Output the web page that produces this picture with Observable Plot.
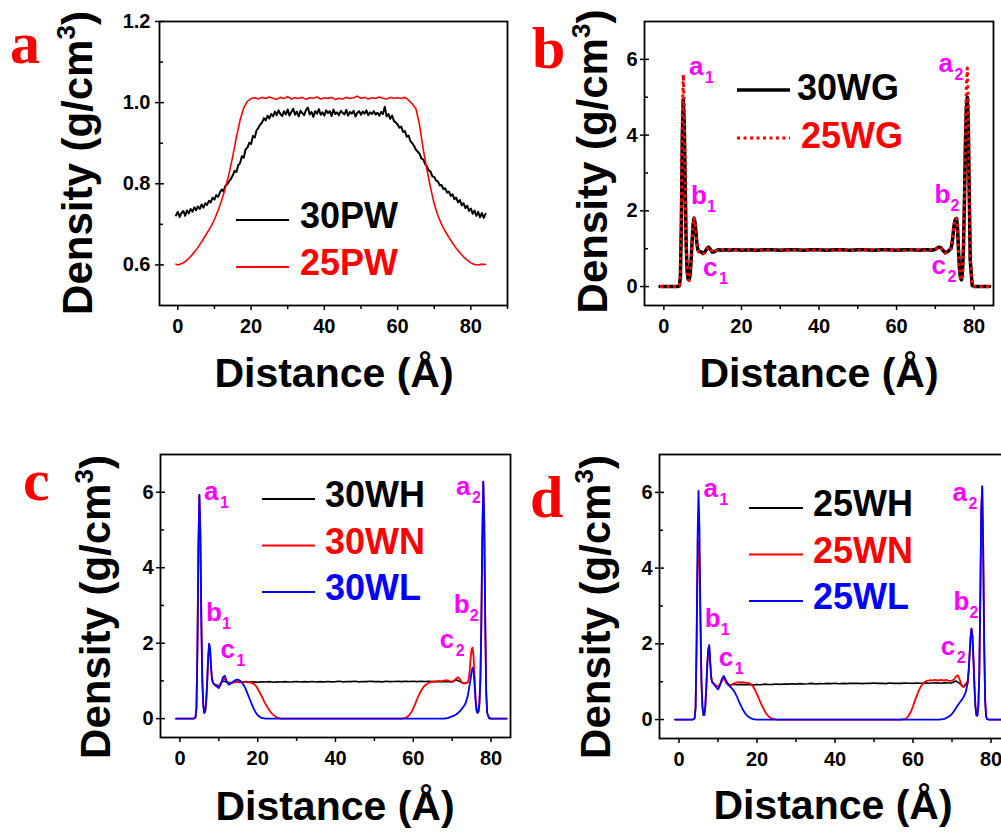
<!DOCTYPE html>
<html><head><meta charset="utf-8">
<script src="https://cdn.jsdelivr.net/npm/d3@7"></script>
<script src="https://cdn.jsdelivr.net/npm/@observablehq/plot@0.6"></script>
<style>
html,body{margin:0;padding:0;background:#fff;overflow:hidden;}
#root{position:relative;width:1001px;height:832px;overflow:hidden;background:#fff;}
</style></head><body><div id="root"></div>
<script>
// ---------------- DATA ----------------
// Panel a
const pwX = [-0.5,0,0.5,1,1.5,2,2.5,3,3.5,4,4.5,5,5.5,6,6.5,7,7.5,8,8.5,9,9.5,10,10.5,11,11.5,12,12.5,13,13.5,14,14.5,15,15.5,16,16.5,17,17.5,18,18.5,19,19.5,20,20.5,21,21.5,22,22.5,23,23.5,24,24.5,25,25.5,26,26.5,27,27.5,28,28.5,29,29.5,30,30.5,31,31.5,32,32.5,33,33.5,34,34.5,35,35.5,36,36.5,37,37.5,38,38.5,39,39.5,40,40.5,41,41.5,42,42.5,43,43.5,44,44.5,45,45.5,46,46.5,47,47.5,48,48.5,49,49.5,50,50.5,51,51.5,52,52.5,53,53.5,54,54.5,55,55.5,56,56.5,57,57.5,58,58.5,59,59.5,60,60.5,61,61.5,62,62.5,63,63.5,64,64.5,65,65.5,66,66.5,67,67.5,68,68.5,69,69.5,70,70.5,71,71.5,72,72.5,73,73.5,74,74.5,75,75.5,76,76.5,77,77.5,78,78.5,79,79.5,80,80.5,81,81.5,82,82.5,83,83.5,84];
const pw30 = [0.722,0.731,0.718,0.728,0.733,0.721,0.734,0.727,0.738,0.731,0.742,0.735,0.744,0.738,0.749,0.741,0.752,0.748,0.758,0.754,0.766,0.761,0.772,0.768,0.779,0.786,0.781,0.795,0.799,0.806,0.812,0.821,0.832,0.829,0.846,0.851,0.868,0.864,0.885,0.889,0.901,0.898,0.918,0.914,0.932,0.938,0.946,0.951,0.962,0.956,0.968,0.961,0.972,0.966,0.978,0.969,0.981,0.972,0.967,0.979,0.971,0.983,0.968,0.977,0.985,0.970,0.978,0.966,0.980,0.974,0.969,0.982,0.988,0.971,0.977,0.965,0.979,0.973,0.984,0.970,0.976,0.968,0.981,0.974,0.979,0.967,0.983,0.972,0.976,0.969,0.980,0.975,0.971,0.982,0.968,0.977,0.973,0.980,0.966,0.975,0.979,0.970,0.978,0.973,0.981,0.969,0.976,0.972,0.979,0.971,0.975,0.968,0.977,0.972,0.990,0.966,0.972,0.960,0.968,0.955,0.951,0.946,0.938,0.941,0.928,0.930,0.916,0.919,0.905,0.900,0.893,0.884,0.879,0.874,0.862,0.860,0.849,0.843,0.833,0.830,0.818,0.817,0.808,0.806,0.796,0.797,0.787,0.789,0.778,0.781,0.770,0.774,0.762,0.766,0.754,0.760,0.747,0.752,0.740,0.746,0.733,0.739,0.726,0.734,0.721,0.731,0.717,0.728,0.716,0.726];
const pw25X = [-0.5,0,1,2,3,4,5,6,7,8,9,10,11,12,13,14,15,16,17,18,19,20,21,22,23,24,25,26,27,28,29,30,31,32,33,34,35,36,37,38,39,40,41,42,43,44,45,46,47,48,49,50,51,52,53,54,55,56,57,58,59,60,61,62,63,64,65,66,67,68,69,70,71,72,73,74,75,76,77,78,79,80,81,82,83,84];
const pw25 = [0.602,0.600,0.603,0.608,0.616,0.626,0.637,0.650,0.664,0.679,0.694,0.712,0.734,0.760,0.790,0.825,0.868,0.915,0.957,0.987,1.003,1.010,1.012,1.009,1.013,1.010,1.014,1.011,1.008,1.013,1.010,1.015,1.009,1.012,1.010,1.013,1.008,1.012,1.011,1.014,1.009,1.012,1.010,1.013,1.008,1.011,1.009,1.013,1.010,1.012,1.016,1.011,1.013,1.009,1.012,1.010,1.014,1.011,1.009,1.013,1.011,1.012,1.010,1.013,1.006,0.997,0.985,0.945,0.885,0.835,0.790,0.750,0.722,0.700,0.683,0.668,0.654,0.641,0.630,0.620,0.612,0.605,0.601,0.600,0.602,0.601];
const namesA = ["30PW","25PW"];

// Panel b
const wgX = [-1,0,1,2,3,3.5,4,4.25,4.5,4.75,5,5.25,5.5,5.75,6,6.25,6.5,6.75,7,7.25,7.5,7.75,8,8.25,8.5,8.75,9,9.5,10,10.5,11,11.5,12,12.5,13,13.5,14,15,16,17,18,19,20,22,24,26,28,30,32,34,36,38,40,42,44,46,48,50,52,54,56,58,60,62,64,66,67,68,69,69.5,70,70.5,71,71.5,72,72.5,73,73.5,74,74.25,74.5,74.75,75,75.25,75.5,75.75,76,76.25,76.5,76.75,77,77.25,77.5,77.75,78,78.25,78.5,78.75,79,79.5,80,81,82,83,84];
const wg30 = [0,0,0,0,0,0,0.02,0.25,1.6,3.9,4.95,4.3,2.6,1.1,0.4,0.2,0.18,0.3,0.65,1.15,1.6,1.8,1.72,1.45,1.15,0.98,0.93,0.92,0.88,0.9,0.99,1.04,0.98,0.91,0.92,0.95,0.97,0.96,0.97,0.96,0.97,0.97,0.96,0.97,0.96,0.97,0.97,0.96,0.97,0.97,0.96,0.97,0.97,0.96,0.97,0.97,0.96,0.97,0.97,0.96,0.97,0.97,0.96,0.97,0.97,0.96,0.97,0.97,0.96,0.97,0.98,1.02,1.04,1.02,0.95,0.9,0.91,0.95,1.0,1.1,1.3,1.55,1.72,1.78,1.8,1.5,0.9,0.45,0.22,0.18,0.4,1.0,2.2,3.7,4.7,5.0,4.3,2.4,0.7,0.03,0,0,0,0,0];
const wg25 = [0,0,0,0,0,0,0.02,0.3,1.8,4.4,5.6,4.7,2.7,1.1,0.4,0.18,0.16,0.3,0.65,1.15,1.6,1.82,1.74,1.45,1.15,0.97,0.92,0.9,0.86,0.89,0.99,1.05,0.98,0.9,0.92,0.95,0.97,0.97,0.96,0.97,0.97,0.96,0.97,0.97,0.97,0.96,0.97,0.97,0.96,0.97,0.97,0.96,0.97,0.97,0.96,0.97,0.97,0.96,0.97,0.97,0.96,0.97,0.97,0.96,0.97,0.97,0.96,0.97,0.97,0.96,0.98,1.03,1.05,1.02,0.94,0.88,0.9,0.95,1.0,1.1,1.32,1.57,1.74,1.8,1.8,1.5,0.9,0.45,0.2,0.17,0.4,1.1,2.4,4.1,5.3,5.77,4.8,2.6,0.75,0.03,0,0,0,0,0];
const namesB = ["30WG","25WG"];

// Panel c
const wh30X = [9,10,11,12,13,14,15,16,17,18,19,20,21,22,23,24,25,26,27,28,29,30,31,32,33,34,35,36,37,38,39,40,41,42,43,44,45,46,47,48,49,50,51,52,53,54,55,56,57,58,59,60,61,62,63,64,65,66,67,68,69,70,71,72,73,74];
const wh30 = [0.9,0.87,1.0,0.97,0.95,0.97,0.97,0.97,0.98,0.97,0.975,0.965,0.975,0.97,0.98,0.965,0.975,0.97,0.98,0.97,0.975,0.985,0.97,0.98,0.975,0.985,0.97,0.98,0.975,0.985,0.975,0.98,0.99,0.975,0.985,0.98,0.99,0.975,0.985,0.98,0.99,0.98,0.985,0.975,0.99,0.98,0.985,0.99,0.98,0.99,0.985,0.99,0.98,0.99,0.985,0.99,0.98,0.985,0.98,0.985,0.98,0.97,1.03,0.98,0.93,0.96];
const wn30X = [-1,0,1,2,3,3.5,4,4.25,4.5,4.75,5,5.25,5.5,5.75,6,6.25,6.5,6.75,7,7.25,7.5,7.75,8,8.25,8.5,9,9.5,10,10.5,11,11.5,12,12.5,13,13.5,14,14.5,15,15.5,16,16.5,17,17.5,18,18.5,19,19.5,20,20.5,21,21.5,22,22.5,23,23.5,24,24.5,25,25.5,26,30,40,50,56,57,57.5,58,58.5,59,59.5,60,60.5,61,61.5,62,62.5,63,63.5,64,64.5,65,65.5,66,66.5,67,67.5,68,68.5,69,69.5,70,70.5,71,71.5,72,72.5,73,73.5,74,74.25,74.5,74.75,75,75.25,75.5,75.75,76,76.25,76.5,76.75,77,77.25,77.5,77.75,78,78.25,78.5,78.75,79,79.5,80,81,82,83,84];
const wn30 = [0,0,0,0,0,0,0.03,0.3,1.9,4.6,5.93,4.9,2.6,1.0,0.35,0.15,0.2,0.45,0.95,1.6,1.98,1.85,1.35,1.05,0.95,0.88,0.86,0.87,0.93,1.02,1.06,0.98,0.93,0.94,0.95,0.96,0.97,0.97,0.96,0.96,0.97,0.97,0.96,0.96,0.94,0.92,0.87,0.79,0.7,0.6,0.49,0.39,0.3,0.22,0.15,0.1,0.06,0.03,0.01,0,0,0,0,0,0,0.01,0.02,0.05,0.1,0.17,0.27,0.39,0.52,0.64,0.74,0.82,0.88,0.92,0.95,0.97,0.98,0.98,0.99,1.0,0.99,1.0,1.01,1.02,1.01,0.99,0.98,1.0,1.06,1.1,1.04,0.96,0.93,0.94,0.97,1.05,1.25,1.6,1.85,1.88,1.65,1.15,0.6,0.28,0.16,0.18,0.4,1.0,2.5,4.8,6.28,5.2,2.6,0.7,0.15,0.01,0,0,0,0,0];
const wl30X = [-1,0,1,2,3,3.5,4,4.25,4.5,4.75,5,5.25,5.5,5.75,6,6.25,6.5,6.75,7,7.25,7.5,7.75,8,8.25,8.5,9,9.5,10,10.5,11,11.5,12,12.5,13,13.5,14,14.5,15,15.5,16,16.5,17,17.5,18,18.5,19,19.5,20,20.5,21,22,30,40,50,60,66,68,68.5,69,69.5,70,70.5,71,71.5,72,72.5,73,73.5,74,74.25,74.5,74.75,75,75.25,75.5,75.75,76,76.25,76.5,76.75,77,77.25,77.5,77.75,78,78.25,78.5,78.75,79,79.5,80,81,82,83,84];
const wl30 = [0,0,0,0,0,0,0.03,0.3,1.9,4.6,5.93,4.9,2.6,1.0,0.35,0.15,0.2,0.45,0.95,1.6,1.98,1.85,1.35,1.05,0.95,0.9,0.85,0.81,0.9,1.08,1.14,1.0,0.9,0.92,0.97,1.0,1.03,1.03,1.0,0.95,0.87,0.76,0.63,0.5,0.38,0.26,0.16,0.09,0.05,0.02,0,0,0,0,0,0,0,0.01,0.02,0.04,0.06,0.08,0.11,0.15,0.2,0.26,0.33,0.42,0.6,0.75,0.9,1.05,1.25,1.35,1.25,0.9,0.48,0.22,0.15,0.18,0.4,1.0,2.5,4.8,6.28,5.2,2.6,0.7,0.15,0.01,0,0,0,0,0];
const namesC = ["30WH","30WN","30WL"];

// Panel d
const wh25X = [12,13,14,15,16,17,18,19,20,21,22,23,24,25,26,27,28,29,30,31,32,33,34,35,36,37,38,39,40,41,42,43,44,45,46,47,48,49,50,51,52,53,54,55,56,57,58,59,60,61,62,63,64,65,66,67,68,69,70,71,72,73,74];
const wh25 = [0.98,0.9,0.93,0.92,0.93,0.92,0.93,0.915,0.925,0.92,0.935,0.925,0.93,0.94,0.93,0.94,0.935,0.945,0.935,0.95,0.94,0.945,0.955,0.94,0.95,0.945,0.955,0.95,0.96,0.945,0.955,0.95,0.96,0.955,0.96,0.95,0.96,0.955,0.965,0.955,0.96,0.95,0.965,0.955,0.96,0.955,0.965,0.96,0.955,0.965,0.96,0.97,0.96,0.965,0.97,0.96,0.97,0.965,0.97,1.02,0.95,0.86,0.98];
const wn25X = [-1,0,1,2,3,3.5,4,4.25,4.5,4.75,5,5.25,5.5,5.75,6,6.25,6.5,6.75,7,7.25,7.5,7.75,8,8.25,8.5,9,9.5,10,10.5,11,11.5,12,12.5,13,13.5,14,14.5,15,15.5,16,16.5,17,17.5,18,18.5,19,19.5,20,20.5,21,21.5,22,22.5,23,23.5,24,24.5,25,30,40,50,57,57.5,58,58.5,59,59.5,60,60.5,61,61.5,62,62.5,63,63.5,64,64.5,65,65.5,66,66.5,67,67.5,68,68.5,69,69.5,70,70.5,71,71.5,72,72.5,73,73.5,74,74.25,74.5,74.75,75,75.25,75.5,75.75,76,76.25,76.5,76.75,77,77.25,77.5,77.75,78,78.25,78.5,78.75,79,79.5,80,81,82,83,84];
const wn25 = [0,0,0,0,0,0,0.03,0.3,1.8,3.9,4.7,4.2,2.6,1.0,0.35,0.12,0.12,0.35,0.85,1.45,1.85,1.97,1.55,1.15,1.0,0.95,0.9,0.88,0.93,1.02,1.1,1.0,0.92,0.9,0.92,0.95,0.97,0.98,0.99,0.98,0.99,0.97,0.97,0.96,0.93,0.87,0.78,0.67,0.55,0.43,0.32,0.22,0.14,0.08,0.04,0.02,0.01,0,0,0,0,0,0.01,0.02,0.05,0.12,0.22,0.35,0.5,0.64,0.77,0.87,0.94,0.99,1.02,1.03,1.04,1.03,1.05,1.04,1.03,1.05,1.04,1.03,1.05,1.03,1.02,1.03,1.06,1.13,1.17,1.05,0.88,0.86,0.95,1.0,1.25,1.7,2.15,2.4,2.2,1.6,0.9,0.35,0.12,0.1,0.35,1.2,3.2,5.5,6.16,4.5,2.0,0.5,0.08,0.01,0,0,0,0,0,0];
const wl25X = [-1,0,1,2,3,3.5,4,4.25,4.5,4.75,5,5.25,5.5,5.75,6,6.25,6.5,6.75,7,7.25,7.5,7.75,8,8.25,8.5,9,9.5,10,10.5,11,11.5,12,12.5,13,13.5,14,14.5,15,15.5,16,16.5,17,17.5,18,18.5,19,20,30,40,50,60,67,67.5,68,68.5,69,69.5,70,70.5,71,71.5,72,72.5,73,73.5,74,74.25,74.5,74.75,75,75.25,75.5,75.75,76,76.25,76.5,76.75,77,77.25,77.5,77.75,78,78.25,78.5,78.75,79,79.5,80,81,82,83,84];
const wl25 = [0,0,0,0,0,0,0.03,0.3,2.0,4.7,6.04,5.0,2.7,1.0,0.35,0.12,0.12,0.35,0.85,1.45,1.85,1.95,1.5,1.1,0.98,0.93,0.85,0.8,0.9,1.08,1.15,1.05,0.95,0.88,0.83,0.77,0.68,0.57,0.45,0.34,0.24,0.16,0.1,0.06,0.03,0.01,0,0,0,0,0,0,0.01,0.02,0.04,0.07,0.1,0.15,0.22,0.3,0.38,0.45,0.52,0.6,0.72,0.95,1.25,1.7,2.15,2.4,2.2,1.6,0.9,0.35,0.12,0.1,0.35,1.2,3.2,5.5,6.16,4.5,2.0,0.5,0.08,0.01,0,0,0,0,0,0];
const namesD = ["25WH","25WN","25WL"];

// Peak annotations (letter, subscript, anchor in data units)
const annLetters = ["a","b","c","a","b","c"];
const annSubs = ["1","1","1","2","2","2"];
const annBX = [6.5, 7.0, 10.1, 70.8, 69.8, 69.0];
const annBY = [5.59, 2.17, 0.29, 5.67, 2.2, 0.34];
const annCX = [6.2, 6.7, 10.4, 71.0, 70.4, 66.8];
const annCY = [5.79, 2.6, 1.6, 5.93, 2.8, 1.88];
const annDX = [6.3, 6.6, 10.2, 70.1, 70.4, 67.1];
const annDY = [5.89, 2.44, 1.41, 5.76, 2.89, 1.70];

// Tick values
const xMajor = [0, 20, 40, 60, 80];
const xMinorA = [10, 30, 50, 70, 90];
const xMinor = [10, 30, 50, 70];
const yMajorA = [0.6, 0.8, 1.0, 1.2];
const yMinorA = [0.7, 0.9, 1.1];
const yMajor = [0, 2, 4, 6];
const yMinor = [1, 3, 5];

// ---------------- DRAWING ----------------
const SANS = "'Liberation Sans', Arial, Helvetica, sans-serif";
const SERIF = "'Liberation Serif', 'Times New Roman', serif";
const RED = "#ff0000", BLUE = "#0000ff", BLACK = "#000000", MAG = "#ff00ff";
const root = document.getElementById("root");

function tbl(xs, ys) { return xs.map((x, i) => ({x, y: ys[i]})); }

function makePanel(p) {
  const [fx0, fx1, fy0, fy1] = p.frame;
  const fw = fx1 - fx0;
  const marks = [];
  p.series.forEach(s => {
    marks.push(Plot.line(tbl(s.x, s.y), {x: "x", y: "y", stroke: s.color, strokeWidth: s.width,
      strokeDasharray: s.dash, strokeLinecap: s.dash ? "butt" : "round", strokeLinejoin: "round"}));
  });
  if (p.ann) {
    const ad = p.ann.x.map((x, i) => ({x, y: p.ann.y[i], l: annLetters[i], s: annSubs[i]}));
    marks.push(Plot.text(ad, {x: "x", y: "y", text: "l", fill: MAG, fontSize: 26, fontWeight: "bold",
      textAnchor: "start", lineAnchor: "bottom", fontFamily: SANS}));
    marks.push(Plot.text(ad, {x: "x", y: "y", text: "s", fill: MAG, fontSize: 16, fontWeight: "bold",
      textAnchor: "start", lineAnchor: "bottom", dx: 16, dy: 8, fontFamily: SANS}));
  }
  marks.push(Plot.tickY(p.yMajor, {y: d => d, insetRight: fw - 5, stroke: BLACK, strokeWidth: 1.5}));
  marks.push(Plot.tickY(p.yMinor, {y: d => d, insetRight: fw - 4, stroke: BLACK, strokeWidth: 1.5}));
  marks.push(Plot.axisX({ticks: xMajor, tickSize: 5, tickPadding: 8, fontSize: 20, fontWeight: "bold",
    label: null, tickFormat: d => String(d), strokeWidth: 1.5}));
  marks.push(Plot.axisX({ticks: p.xMinor, tickSize: 4, label: null, tickFormat: () => "", strokeWidth: 1.5}));
  marks.push(Plot.axisY({ticks: p.yMajor, tickSize: 4, tickPadding: p.yPad, fontSize: 20, fontWeight: "bold",
    label: null, tickFormat: p.yFmt, strokeWidth: 1.5}));
  marks.push(Plot.frame({stroke: BLACK, strokeWidth: 1.8}));

  const svg = Plot.plot({
    width: p.width, height: p.height,
    marginLeft: fx0 - p.left, marginRight: p.left + p.width - fx1,
    marginTop: fy0 - p.top, marginBottom: p.top + p.height - fy1,
    x: {domain: p.xDomain}, y: {domain: p.yDomain},
    style: {background: "transparent", overflow: "visible", fontFamily: SANS, fontSize: "20px", fontWeight: "bold", color: "black"},
    marks
  });
  svg.style.position = "absolute";
  svg.style.left = p.left + "px";
  svg.style.top = p.top + "px";
  svg.style.maxWidth = "none";
  svg.style.background = "transparent";
  svg.style.overflow = "visible";
  root.appendChild(svg);

  const g = d3.select(svg).append("g");
  const L = x => x - p.left, T = y => y - p.top;
  // y label
  const yl = g.append("text")
    .attr("transform", `translate(${L(p.yLab[0])},${T(p.yLab[1])}) rotate(-90)`)
    .attr("text-anchor", "middle").attr("font-family", SANS).attr("font-weight", "bold")
    .attr("font-size", 42).attr("fill", BLACK);
  yl.append("tspan").text("Density (g/cm");
  yl.append("tspan").attr("font-size", 26).attr("dy", -17).text("3");
  yl.append("tspan").attr("dy", 17).text(")");
  // x label
  g.append("text").attr("x", L(p.xLab[0])).attr("y", T(p.xLab[1]))
    .attr("text-anchor", "middle").attr("font-family", SANS).attr("font-weight", "bold")
    .attr("font-size", 41).attr("fill", BLACK).text("Distance (Å)");
  // panel letter
  g.append("text").attr("x", L(p.letterPos[0])).attr("y", T(p.letterPos[1]))
    .attr("text-anchor", "start").attr("font-family", SERIF).attr("font-weight", "bold")
    .attr("font-size", 60).attr("fill", RED).text(p.letter);
  // legend
  p.series.forEach((s, i) => {
    const ly = p.leg.y0 + i * p.leg.step;
    g.append("line").attr("x1", L(p.leg.x1)).attr("x2", L(p.leg.x2))
      .attr("y1", T(ly)).attr("y2", T(ly)).attr("stroke", s.color)
      .attr("stroke-width", s.legWidth || 2).attr("stroke-dasharray", s.dash || null);
    g.append("text").attr("x", L(p.leg.tx + (s.legShift || 0))).attr("y", T(ly + p.leg.off))
      .attr("text-anchor", "start").attr("font-family", SANS).attr("font-weight", "bold")
      .attr("font-size", 36).attr("fill", s.color).text(s.name);
  });
}

makePanel({
  left: 0, top: 0, width: 520, height: 410, frame: [159, 507, 21, 305],
  xDomain: [-5, 90], yDomain: [0.5, 1.2], xMinor: xMinorA, yMajor: yMajorA, yMinor: yMinorA,
  yPad: 5, yFmt: d3.format(".1f"),
  series: [
    {x: pwX, y: pw30, color: BLACK, width: 2, name: namesA[0]},
    {x: pw25X, y: pw25, color: RED, width: 1.6, name: namesA[1]}
  ],
  yLab: [92, 163], xLab: [334, 387], letter: "a", letterPos: [10, 63],
  leg: {x1: 236, x2: 289, tx: 300, y0: 220, step: 47, off: 8}
});

makePanel({
  left: 500, top: 0, width: 501, height: 410, frame: [644, 993, 21, 305],
  xDomain: [-5, 85], yDomain: [-0.5, 7], xMinor: xMinor, yMajor: yMajor, yMinor: yMinor,
  yPad: 3, yFmt: d3.format("d"),
  series: [
    {x: wgX, y: wg30, color: BLACK, width: 3.5, legWidth: 3.5, name: namesB[0]},
    {x: wgX, y: wg25, color: RED, width: 3, legWidth: 3, dash: "3,3.5", legShift: 4, name: namesB[1]}
  ],
  ann: {x: annBX, y: annBY},
  yLab: [607, 161.5], xLab: [819, 387], letter: "b", letterPos: [532, 68],
  leg: {x1: 737, x2: 790, tx: 797, y0: 90, step: 48, off: 9.5}
});

makePanel({
  left: 0, top: 420, width: 520, height: 412, frame: [160, 510, 454, 737],
  xDomain: [-5, 85], yDomain: [-0.5, 7], xMinor: xMinor, yMajor: yMajor, yMinor: yMinor,
  yPad: 3, yFmt: d3.format("d"),
  series: [
    {x: wh30X, y: wh30, color: BLACK, width: 1.6, name: namesC[0]},
    {x: wn30X, y: wn30, color: RED, width: 1.8, name: namesC[1]},
    {x: wl30X, y: wl30, color: BLUE, width: 1.8, name: namesC[2]}
  ],
  ann: {x: annCX, y: annCY},
  yLab: [110, 607], xLab: [335, 820], letter: "c", letterPos: [23, 500],
  leg: {x1: 262, x2: 315, tx: 325, y0: 499, step: 46.5, off: 8}
});

makePanel({
  left: 500, top: 420, width: 520, height: 412, frame: [659, 1010, 454, 738],
  xDomain: [-5, 85], yDomain: [-0.5, 7], xMinor: xMinor, yMajor: yMajor, yMinor: yMinor,
  yPad: 3, yFmt: d3.format("d"),
  series: [
    {x: wh25X, y: wh25, color: BLACK, width: 1.6, name: namesD[0]},
    {x: wn25X, y: wn25, color: RED, width: 1.8, name: namesD[1]},
    {x: wl25X, y: wl25, color: BLUE, width: 1.8, name: namesD[2]}
  ],
  ann: {x: annDX, y: annDY},
  yLab: [610, 607], xLab: [833, 819], letter: "d", letterPos: [530, 517],
  leg: {x1: 749, x2: 803, tx: 813, y0: 508, step: 46.5, off: 8}
});
</script></body></html>
